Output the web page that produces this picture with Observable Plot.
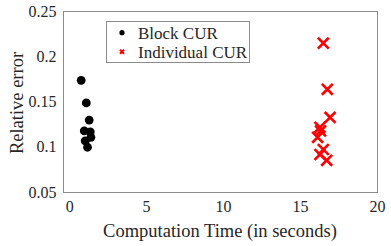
<!DOCTYPE html>
<html>
<head>
<meta charset="utf-8">
<script src="https://cdn.jsdelivr.net/npm/d3@7"></script>
<script src="https://cdn.jsdelivr.net/npm/@observablehq/plot@0.6"></script>
<style>
html,body{margin:0;padding:0;background:#fff;}
#chart{position:relative;width:391px;height:246px;}
</style>
</head>
<body>
<div id="chart"></div>
<script>
const blockTime = [0.75, 1.08, 1.27, 0.95, 1.34, 1.38, 1.01, 1.16];
const blockErr  = [0.174, 0.149, 0.130, 0.118, 0.117, 0.111, 0.107, 0.100];
const indivTime = [16.48, 16.74, 16.92, 16.26, 16.30, 16.11, 16.48, 16.26, 16.70];
const indivErr  = [0.215, 0.164, 0.133, 0.122, 0.118, 0.111, 0.0975, 0.092, 0.0856];
const xTicks = [0, 5, 10, 15, 20];
const yTicks = [0.05, 0.1, 0.15, 0.2, 0.25];
const seriesNames = ["Block CUR", "Individual CUR"];
const xTitle = "Computation Time (in seconds)";
const yTitle = "Relative error";

const block = blockTime.map((t, i) => ({t, e: blockErr[i]}));
const indiv = indivTime.map((t, i) => ({t, e: indivErr[i]}));

const font = "'Liberation Serif', 'Times New Roman', serif";
const gray = "#8c8c8c";
const ink = "#262626";

const W = 391, H = 246, mL = 63, mR = 14, mT = 11, mB = 54;

const plot = Plot.plot({
  width: W,
  height: H,
  marginLeft: mL,
  marginRight: mR,
  marginTop: mT,
  marginBottom: mB,
  style: {fontFamily: font, fontSize: "16px", color: ink, background: "#fff"},
  x: {domain: [-0.4, 20], ticks: xTicks, tickSize: 0, tickPadding: 8, tickFormat: d => String(d), label: null},
  y: {domain: [0.05, 0.25], ticks: yTicks, tickSize: 0, tickPadding: 7, tickFormat: d => String(+d.toFixed(2)), label: null},
  marks: [
    Plot.frame({stroke: gray, strokeWidth: 1}),
    Plot.dot(block, {x: "t", y: "e", r: 4.4, fill: "black", stroke: "none"}),
    Plot.dot(indiv, {x: "t", y: "e", r: 5, symbol: "times", stroke: "#ff0000", strokeWidth: 2.6})
  ]
});
document.getElementById("chart").appendChild(plot);

const svg = d3.select(plot);
const cx = (mL + W - mR) / 2, cy = (mT + H - mB) / 2;

// axis titles
svg.append("text").attr("x", cx).attr("y", 237).attr("text-anchor", "middle")
  .attr("font-family", font).attr("font-size", "18.5px").attr("fill", ink).text(xTitle);
svg.append("text").attr("transform", `translate(23,${cy + 1.5}) rotate(-90)`).attr("text-anchor", "middle")
  .attr("font-family", font).attr("font-size", "18.5px").attr("fill", ink).text(yTitle);

// legend inside the plot area
const lg = svg.append("g").attr("font-family", font).attr("font-size", "17px").attr("text-anchor", "start");
lg.append("rect").attr("x", 106.5).attr("y", 21.5).attr("width", 143).attr("height", 41)
  .attr("fill", "white").attr("stroke", gray);
lg.append("circle").attr("cx", 122).attr("cy", 32.7).attr("r", 2.6).attr("fill", "black");
lg.append("path").attr("d", "M120,49.7L124,53.7M124,49.7L120,53.7").attr("stroke", "#ff0000").attr("stroke-width", 2);
lg.append("text").attr("x", 138).attr("y", 32.7).attr("dy", "0.35em").attr("fill", ink).text(seriesNames[0]);
lg.append("text").attr("x", 138).attr("y", 51.7).attr("dy", "0.35em").attr("fill", ink).text(seriesNames[1]);
</script>
</body>
</html>
